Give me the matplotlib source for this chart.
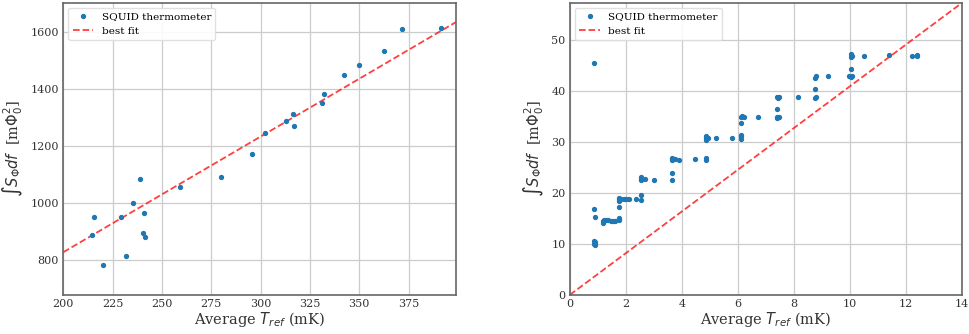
import numpy as np
import matplotlib
matplotlib.use("Agg")
import matplotlib.pyplot as plt

plt.rcParams['font.family'] = ['DejaVu Serif']
plt.rcParams['mathtext.fontset'] = 'dejavusans'

# warm run: integrated flux noise vs reference temperature
t_warm = [214.4, 215.8, 220.0, 229.5, 231.6, 235.5, 239.0, 240.9, 240.6, 241.4,
          258.9, 280.1, 295.6, 302.3, 312.9, 316.4, 317.1, 331.2, 332.0, 342.2,
          349.7, 362.6, 371.6, 391.3]
s_warm = [888, 952, 782, 952, 814, 1000, 1085, 963, 896, 882,
          1057, 1092, 1173, 1244, 1288, 1311, 1269, 1352, 1382, 1450,
          1483, 1534, 1609, 1613]
fit_warm = (4.06, 15.0)

# cold run
t_cold = [0.88, 0.88, 0.90, 0.88, 0.90, 0.88, 0.90,
          1.17, 1.17, 1.22, 1.30, 1.38, 1.46, 1.53, 1.61,
          1.75, 1.75, 1.76, 1.75, 1.76, 1.75, 1.77,
          1.84, 1.93, 2.00, 2.10, 2.35,
          2.53, 2.53, 2.53, 2.53, 2.54, 2.70, 3.00,
          3.65, 3.65, 3.65, 3.66, 3.65, 3.75, 3.90, 4.45,
          4.85, 4.85, 4.85, 4.86, 4.85, 4.93, 5.20, 5.80,
          6.12, 6.12, 6.12, 6.12, 6.12, 6.13, 6.22, 6.70,
          7.40, 7.40, 7.40, 7.43, 7.40, 7.47, 7.47, 8.15,
          8.75, 8.77, 8.75, 8.75, 8.77, 9.20, 9.95,
          10.05, 10.07, 10.05, 10.05, 10.07, 10.05, 10.50, 11.40, 12.20, 12.40, 12.40]
s_cold = [45.6, 16.8, 15.3, 10.6, 10.3, 10.0, 9.8,
          14.2, 14.6, 14.8, 14.7, 14.7, 14.6, 14.5, 14.5,
          14.7, 15.0, 15.2, 17.2, 18.5, 18.8, 19.0,
          18.8, 18.8, 18.8, 18.9, 18.8,
          19.6, 18.7, 22.5, 22.8, 23.2, 22.7, 22.5,
          22.5, 23.9, 26.5, 26.8, 26.6, 26.6, 26.5, 26.6,
          26.5, 26.9, 30.5, 30.9, 31.2, 30.9, 30.8, 30.9,
          30.7, 31.2, 31.5, 33.8, 34.9, 35.2, 35.0, 35.0,
          34.8, 35.0, 36.5, 38.6, 38.9, 35.0, 38.8, 38.8,
          38.6, 38.9, 40.4, 42.7, 43.0, 43.0, 43.0,
          42.8, 43.0, 44.3, 46.8, 47.0, 47.3, 47.0, 47.1, 46.9, 46.9, 47.1]
fit_cold = (4.1, 0.0)

fig = plt.figure(figsize=(9.69, 3.34), dpi=100)
ax1 = fig.add_axes([0.0653, 0.117, 0.4053, 0.875])
ax2 = fig.add_axes([0.588, 0.117, 0.405, 0.875])

ylab = r'$\int S_{\Phi} df$  [m$\Phi_0^2$]'
xlab = r'Average $T_{ref}$ (mK)'


def panel(ax, t, s, fit, xlim, ylim, xticks, yticks):
    xx = np.linspace(xlim[0], xlim[1], 50)
    ax.plot(t, s, 'o', color='#1f77b4', ms=2.8, label='SQUID thermometer', zorder=3)
    ax.plot(xx, fit[0] * xx + fit[1], '--', color='red', alpha=0.75, lw=1.3,
            label='best fit', zorder=2)
    ax.set_xlim(*xlim)
    ax.set_ylim(*ylim)
    ax.set_xticks(xticks)
    ax.set_yticks(yticks)
    ax.grid(True, color='#cccccc', lw=0.9)
    ax.set_axisbelow(True)
    ax.tick_params(direction='in', labelsize=8, colors='#333333', length=0)
    ax.tick_params(axis='x', pad=3)
    ax.tick_params(axis='y', pad=3)
    for sp in ax.spines.values():
        sp.set_color('#666666')
        sp.set_linewidth(1.2)
    ax.set_xlabel(xlab, fontsize=10.5, color='#333333', labelpad=1)
    ax.set_ylabel(ylab, fontsize=10.5, color='#333333', labelpad=4)
    ax.legend(loc='upper left', fontsize=7.5, framealpha=0.9, edgecolor='#dddddd',
              borderpad=0.4, handlelength=2.0)


panel(ax1, t_warm, s_warm, fit_warm, (200, 399), (677, 1703),
      range(200, 400, 25), range(800, 1700, 200))
panel(ax2, t_cold, s_cold, fit_cold, (0, 14), (0, 57.4),
      range(0, 15, 2), range(0, 51, 10))

fig.savefig('out.png', dpi=100)
